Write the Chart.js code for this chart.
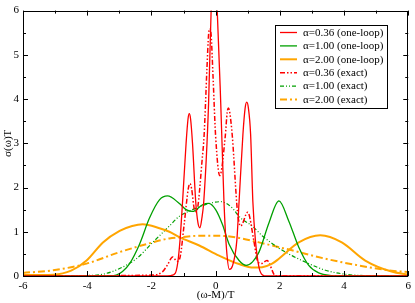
<!DOCTYPE html>
<html>
<head>
<meta charset="utf-8">
<script src="https://cdn.jsdelivr.net/npm/chart.js@4.4.1/dist/chart.umd.min.js"></script>
<style>
html,body{margin:0;padding:0;background:#fff;}
#wrap{width:415px;height:303px;position:relative;}
</style>
</head>
<body>
<div id="wrap"><canvas id="c"></canvas></div>
<script>
// ---- data ----
const xTicks = [-6, -4, -2, 0, 2, 4, 6];
const yTicks = [0, 1, 2, 3, 4, 5, 6];
const seriesLabels = ["α=0.36 (one-loop)", "α=1.00 (one-loop)", "α=2.00 (one-loop)",
                      "α=0.36 (exact)", "α=1.00 (exact)", "α=2.00 (exact)"];

const red1X = [-6, -1.6, -1.4, -1.26, -1.18, -1.11, -1.03, -0.92, -0.86, -0.82, -0.78, -0.72, -0.62, -0.55, -0.49, -0.43, -0.37, -0.22, -0.14, -0.05, 0.05, 0.16, 0.26, 0.34, 0.43, 0.52, 0.66, 0.73, 0.85, 0.92, 0.97, 1.02, 1.09, 1.16, 1.24, 1.35, 1.45, 1.6, 6];
const red1Y = [0, 0, 0.01, 0.06, 0.3, 0.8, 1.68, 3.0, 3.55, 3.67, 3.55, 3.0, 1.68, 1.2, 1.09, 1.3, 1.68, 3.89, 6.0, 7.0, 6.0, 3.89, 1.68, 0.6, 0.15, 0.22, 0.8, 1.68, 3.2, 3.8, 3.93, 3.8, 3.2, 1.68, 0.8, 0.2, 0.03, 0, 0];

const green1X = [-6, -3.5, -3.1, -2.9, -2.68, -2.37, -2.06, -1.75, -1.5, -1.13, -0.92, -0.72, -0.41, -0.22, 0.0, 0.21, 0.42, 0.73, 0.95, 1.15, 1.35, 1.66, 1.97, 2.28, 2.59, 2.9, 3.21, 3.6, 4.0, 6];
const green1Y = [0, 0, 0.02, 0.1, 0.28, 0.72, 1.31, 1.72, 1.81, 1.64, 1.5, 1.46, 1.61, 1.64, 1.5, 1.17, 0.72, 0.35, 0.24, 0.32, 0.54, 1.2, 1.7, 1.24, 0.65, 0.24, 0.07, 0.01, 0, 0];

const orange1X = [-6, -5.06, -4.5, -4.02, -3.51, -2.99, -2.6, -2.27, -1.75, -1.44, -1.13, -0.51, 0.11, 0.73, 1.19, 1.45, 1.76, 1.97, 2.59, 3.26, 3.93, 4.66, 5.48, 6];
const orange1Y = [0.02, 0.03, 0.12, 0.35, 0.76, 1.02, 1.13, 1.17, 1.08, 1.0, 0.88, 0.69, 0.46, 0.27, 0.19, 0.2, 0.28, 0.39, 0.76, 0.92, 0.76, 0.35, 0.1, 0.03];

const red2X = [-6, -1.96, -1.65, -1.5, -1.34, -1.2, -1.1, -0.98, -0.85, -0.8, -0.75, -0.66, -0.6, -0.41, -0.36, -0.27, -0.22, -0.18, -0.14, -0.08, 0.0, 0.13, 0.3, 0.36, 0.4, 0.44, 0.52, 0.68, 0.78, 1.0, 1.19, 1.3, 1.42, 1.6, 1.87, 6];
const red2Y = [0, 0.02, 0.1, 0.25, 0.43, 0.33, 0.45, 1.17, 1.98, 2.09, 1.98, 1.5, 1.45, 2.71, 3.16, 4.7, 5.45, 5.59, 5.45, 4.5, 3.16, 2.27, 3.16, 3.7, 3.8, 3.7, 3.16, 1.46, 1.13, 1.44, 0.8, 0.35, 0.28, 0.35, 0, 0];

const green2X = [-6, -4.5, -4.02, -3.51, -2.99, -2.47, -1.96, -1.44, -1.13, -0.72, -0.3, 0.16, 0.47, 0.78, 1.14, 1.45, 1.97, 2.38, 2.9, 3.42, 4.04, 4.6, 6];
const green2Y = [0, 0.005, 0.01, 0.04, 0.17, 0.39, 0.76, 1.13, 1.35, 1.5, 1.62, 1.68, 1.57, 1.31, 1.13, 0.91, 0.63, 0.46, 0.28, 0.13, 0.04, 0.01, 0];

const orange2X = [-6, -5.06, -4.02, -2.99, -1.96, -1.44, -1.13, -0.51, 0.11, 0.73, 1.35, 1.92, 2.38, 3.42, 4.45, 5.48, 6];
const orange2Y = [0.07, 0.13, 0.28, 0.54, 0.76, 0.85, 0.87, 0.91, 0.91, 0.86, 0.76, 0.66, 0.58, 0.39, 0.24, 0.12, 0.09];

// ---- build ----
const pts = (xs, ys) => xs.map((x, i) => ({x: x, y: ys[i]}));
const RED = "#ff0000", GREEN = "#00a000", ORANGE = "#ffa500";
const FONT = "'Liberation Serif', 'Times New Roman', serif";

const ds = [
  {label: seriesLabels[0], data: pts(red1X, red1Y), borderColor: RED, borderWidth: 1.3, borderDash: []},
  {label: seriesLabels[1], data: pts(green1X, green1Y), borderColor: GREEN, borderWidth: 1.3, borderDash: []},
  {label: seriesLabels[2], data: pts(orange1X, orange1Y), borderColor: ORANGE, borderWidth: 2, borderDash: []},
  {label: seriesLabels[3], data: pts(red2X, red2Y), borderColor: RED, borderWidth: 1.5, borderDash: [5, 2, 1.5, 2, 1.5, 2]},
  {label: seriesLabels[4], data: pts(green2X, green2Y), borderColor: GREEN, borderWidth: 1.2, borderDash: [4, 2, 1, 2, 1, 2]},
  {label: seriesLabels[5], data: pts(orange2X, orange2Y), borderColor: ORANGE, borderWidth: 2, borderDash: [7, 3, 2, 3]}
].map(d => Object.assign(d, {pointRadius: 0, fill: false, cubicInterpolationMode: 'monotone'}));

const framePlugin = {
  id: 'frame',
  afterDatasetsDraw(chart) {
    const ctx = chart.ctx, a = chart.chartArea;
    const xs = chart.scales.x, ys = chart.scales.y;
    ctx.save();
    ctx.strokeStyle = '#000';
    ctx.lineWidth = 1;
    ctx.setLineDash([]);
    ctx.strokeRect(Math.round(a.left) + 0.5, Math.round(a.top) + 0.5,
                   Math.round(a.right - a.left) - 1, Math.round(a.bottom - a.top));
    ctx.beginPath();
    for (let v = -6; v <= 6; v += 1) {
      const L = (v % 2 === 0) ? 5 : 3;
      const px = Math.round(xs.getPixelForValue(v)) + 0.5;
      ctx.moveTo(px, a.bottom); ctx.lineTo(px, a.bottom - L);
      ctx.moveTo(px, a.top); ctx.lineTo(px, a.top + L);
    }
    for (let v = 0; v <= 6; v += 0.5) {
      const L = (v % 1 === 0) ? 5 : 3;
      const py = Math.round(ys.getPixelForValue(v)) + 0.5;
      ctx.moveTo(a.left, py); ctx.lineTo(a.left + L, py);
      ctx.moveTo(a.right, py); ctx.lineTo(a.right - L, py);
    }
    ctx.stroke();

    // legend box
    const bx = 275.5, by = 25.5, bw = 112, bh = 83;
    ctx.fillStyle = '#fff';
    ctx.fillRect(bx, by, bw, bh);
    ctx.strokeStyle = '#000';
    ctx.strokeRect(bx, by, bw, bh);
    ctx.font = "11px " + FONT;
    ctx.textBaseline = 'middle';
    ctx.textAlign = 'left';
    chart.data.datasets.forEach((d, i) => {
      const y = 32.5 + i * 13.4;
      ctx.beginPath();
      ctx.strokeStyle = d.borderColor;
      ctx.lineWidth = d.borderWidth;
      ctx.setLineDash(d.borderDash);
      ctx.moveTo(280, y); ctx.lineTo(297, y);
      ctx.stroke();
      ctx.setLineDash([]);
      ctx.fillStyle = '#000';
      ctx.fillText(d.label, 303, y + 0.5);
    });
    ctx.restore();
  }
};

new Chart(document.getElementById('c'), {
  type: 'line',
  data: {datasets: ds},
  options: {
    responsive: true,
    maintainAspectRatio: false,
    animation: false,
    layout: {padding: {top: 5, right: 5, left: 0, bottom: 0}},
    plugins: {legend: {display: false}, tooltip: {enabled: false}},
    scales: {
      x: {
        type: 'linear', min: -6, max: 6,
        afterBuildTicks: s => { s.ticks = xTicks.map(v => ({value: v})); },
        afterFit: s => { s.height = 27; },
        grid: {display: false, drawTicks: false},
        border: {display: false},
        ticks: {color: '#000', font: {family: FONT, size: 11}, padding: 4, maxRotation: 0, autoSkip: false},
        title: {display: true, text: '(ω-M)/T', color: '#000', font: {family: FONT, size: 11}, padding: {top: 0, bottom: 1}}
      },
      y: {
        type: 'linear', min: 0, max: 6,
        afterBuildTicks: s => { s.ticks = yTicks.map(v => ({value: v})); },
        afterFit: s => { s.width = 23; },
        grid: {display: false, drawTicks: false},
        border: {display: false},
        ticks: {color: '#000', font: {family: FONT, size: 11}, padding: 4, autoSkip: false},
        title: {display: true, text: 'σ(ω)T', color: '#000', font: {family: FONT, size: 11}, padding: {top: 2, bottom: 0}}
      }
    }
  },
  plugins: [framePlugin]
});
</script>
</body>
</html>
